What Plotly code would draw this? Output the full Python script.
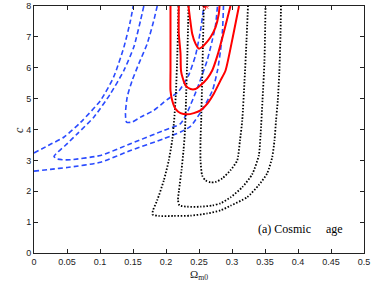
import plotly.graph_objects as go

# ---- data (Omega_m0, c) ----
# blue dashed contours
blue_a_upper_x = [0.0, 0.025, 0.0452, 0.0705, 0.1008, 0.1209, 0.1361, 0.1462, 0.1503]
blue_a_upper_y = [3.24, 3.52, 3.75, 4.23, 4.94, 5.71, 6.66, 7.53, 8.0]
blue_a_lower_x = [0.0, 0.025, 0.0503, 0.1008, 0.1462, 0.1967, 0.222, 0.2371, 0.2573, 0.2705, 0.278, 0.2826, 0.2856, 0.2871]
blue_a_lower_y = [2.65, 2.71, 2.77, 2.94, 3.32, 3.70, 3.92, 4.10, 4.72, 5.27, 5.91, 6.56, 7.21, 8.0]
blue_b_x = [0.1664, 0.1614, 0.1512, 0.1361, 0.1159, 0.0906, 0.0655, 0.0477, 0.0341, 0.0303, 0.0341, 0.0432,
            0.0553, 0.1008, 0.1462, 0.1967, 0.222, 0.2321, 0.2473, 0.2624, 0.27, 0.275, 0.278]
blue_b_y = [8.0, 7.53, 6.67, 5.91, 5.16, 4.40, 3.86, 3.49, 3.23, 3.13, 3.05, 3.02,
            3.02, 3.16, 3.54, 3.97, 4.19, 4.55, 5.33, 6.24, 6.88, 7.37, 8.0]
blue_c_x = [0.1867, 0.1815, 0.1715, 0.1588, 0.1488, 0.1412, 0.1386, 0.1402, 0.1488, 0.1614, 0.1815,
            0.2018, 0.2189, 0.2341, 0.2447, 0.2523, 0.2573]
blue_c_y = [8.0, 7.53, 6.78, 6.13, 5.59, 5.05, 4.51, 4.24, 4.24, 4.40, 4.62,
            4.97, 5.23, 5.75, 6.40, 7.21, 8.0]

# black dotted contours
black_in_x = [0.2573, 0.2561, 0.2548, 0.2533, 0.2523, 0.2523, 0.2548, 0.2598, 0.2674, 0.275, 0.2856,
              0.2977, 0.3079, 0.3121, 0.3155, 0.319, 0.322, 0.3242]
black_in_y = [8.0, 6.88, 5.59, 4.29, 3.65, 3.0, 2.51, 2.35, 2.29, 2.30, 2.42,
              2.68, 3.0, 3.65, 4.29, 5.59, 6.88, 8.0]
black_mid_x = [0.2341, 0.2333, 0.2321, 0.2303, 0.2288, 0.2265, 0.2235, 0.2197, 0.2182, 0.2205, 0.2321,
               0.2523, 0.2705, 0.2826, 0.2977, 0.3155, 0.3306, 0.3406, 0.3432, 0.3462, 0.3492, 0.3508]
black_mid_y = [8.0, 7.21, 6.23, 4.94, 3.97, 3.32, 2.68, 2.03, 1.71, 1.54, 1.50,
               1.50, 1.54, 1.61, 1.80, 2.13, 2.55, 3.16, 3.81, 4.94, 6.23, 8.0]
black_out_x = [0.2189, 0.2182, 0.217, 0.2152, 0.2129, 0.2094, 0.2042, 0.1967, 0.1867, 0.1803, 0.1795,
               0.1891, 0.2118, 0.2371, 0.2624, 0.2826, 0.2977, 0.323, 0.3402, 0.3533, 0.3609,
               0.3644, 0.3667, 0.3694, 0.372, 0.3735, 0.3742]
black_out_y = [8.0, 7.21, 6.33, 5.26, 4.45, 3.65, 3.0, 2.35, 1.71, 1.38, 1.25,
               1.20, 1.20, 1.21, 1.28, 1.38, 1.53, 1.81, 2.19, 2.58, 3.10,
               3.65, 4.29, 4.94, 6.01, 7.11, 8.0]

# red solid contours
red_in_x = [0.234, 0.2361, 0.2397, 0.2447, 0.2497, 0.2548, 0.2598, 0.2674, 0.275, 0.28, 0.2811]
red_in_y = [8.0, 7.64, 7.10, 6.78, 6.62, 6.67, 6.78, 6.99, 7.31, 7.75, 8.0]
red_mid_x = [0.2194, 0.2194, 0.222, 0.2227, 0.225, 0.2295, 0.2371, 0.2447, 0.2523, 0.2624, 0.27, 0.278, 0.2871, 0.2977]
red_mid_y = [8.0, 7.11, 6.46, 5.91, 5.69, 5.43, 5.31, 5.31, 5.43, 5.65, 5.91, 6.40, 7.11, 8.0]
red_out_x = [0.2068, 0.2068, 0.2068, 0.2068, 0.2094, 0.2144, 0.222, 0.2321, 0.2421, 0.2523, 0.2624,
             0.2724, 0.2826, 0.2902, 0.3023, 0.3106]
red_out_y = [8.0, 6.9, 5.91, 5.26, 4.94, 4.67, 4.53, 4.49, 4.53, 4.62, 4.83,
             5.16, 5.59, 5.91, 7.11, 8.0]
best_x = [0.26]
best_y = [8.0]

x_ticks = [0, 0.05, 0.1, 0.15, 0.2, 0.25, 0.3, 0.35, 0.4, 0.45, 0.5]
x_tick_text = ["0", "0.05", "0.1", "0.15", "0.2", "0.25", "0.3", "0.35", "0.4", "0.45", "0.5"]
y_ticks = [0, 1, 2, 3, 4, 5, 6, 7, 8]
label_text = "(a) Cosmic\u00a0\u00a0\u00a0\u00a0\u00a0age"
x_title = "Ω<sub>m0</sub>"
y_title = "<i>c</i>"

BLUE = "#2a4bff"
SERIF = "Liberation Serif, Times New Roman, serif"
fig = go.Figure()
for xs, ys in [(blue_a_upper_x, blue_a_upper_y), (blue_a_lower_x, blue_a_lower_y),
               (blue_b_x, blue_b_y), (blue_c_x, blue_c_y)]:
    fig.add_trace(go.Scatter(x=xs, y=ys, mode="lines", hoverinfo="skip",
                             line=dict(color=BLUE, width=1.6, dash="5px,3px", shape="spline", smoothing=0.6)))
for xs, ys in [(black_in_x, black_in_y), (black_mid_x, black_mid_y), (black_out_x, black_out_y)]:
    fig.add_trace(go.Scatter(x=xs, y=ys, mode="lines", hoverinfo="skip",
                             line=dict(color="black", width=1.8, dash="1.5px,1.7px", shape="spline", smoothing=0.6)))
for xs, ys in [(red_in_x, red_in_y), (red_mid_x, red_mid_y), (red_out_x, red_out_y)]:
    fig.add_trace(go.Scatter(x=xs, y=ys, mode="lines", hoverinfo="skip",
                             line=dict(color="#ff0000", width=2, shape="spline", smoothing=0.6)))
fig.add_trace(go.Scatter(x=best_x, y=best_y, mode="markers", hoverinfo="skip",
                         marker=dict(symbol="asterisk", size=6, line=dict(color="#ff0000", width=1))))

fig.add_annotation(x=0.3356, y=0.77, xref="x", yref="y", text=label_text, showarrow=False,
                   xanchor="left", yanchor="middle",
                   font=dict(family=SERIF, size=12, color="black"))
# axis titles
fig.add_annotation(x=0.5, y=-0.088, xref="x domain", yref="y domain", text=x_title, showarrow=False,
                   xanchor="center", yanchor="middle", font=dict(family=SERIF, size=11, color="#222"))
fig.add_annotation(x=-0.047, y=0.5, xref="x domain", yref="y domain", text=y_title, showarrow=False,
                   textangle=-90, xanchor="center", yanchor="middle", font=dict(family=SERIF, size=12, color="#222"))

axis_common = dict(showgrid=False, zeroline=False, showline=True, linecolor="#222", linewidth=1,
                   mirror="ticks", ticks="inside", ticklen=4, tickcolor="#222", automargin=False,
                   tickfont=dict(family="Liberation Sans, Arial, sans-serif", size=9, color="#222"))
fig.update_xaxes(range=[0, 0.5], tickvals=x_ticks, ticktext=x_tick_text, **axis_common)
fig.update_yaxes(range=[0, 8], tickvals=y_ticks, **axis_common)
fig.update_layout(width=374, height=281, showlegend=False, plot_bgcolor="white", paper_bgcolor="white",
                  margin=dict(l=34, r=10, t=6, b=28))
fig.write_html("out.html", config={"displayModeBar": False},
               post_script="document.body.style.margin='0';")
